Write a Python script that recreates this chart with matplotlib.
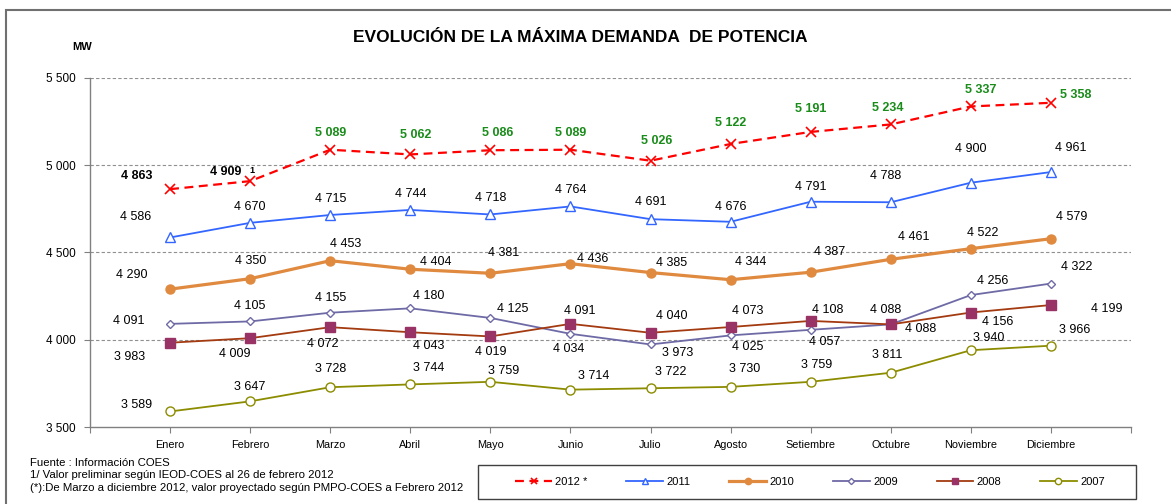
import matplotlib
matplotlib.use("Agg")
import matplotlib.pyplot as plt
from matplotlib.patches import Rectangle

plt.rcParams['font.family'] = ['Liberation Sans', 'DejaVu Sans']

meses = ["Enero", "Febrero", "Marzo", "Abril", "Mayo", "Junio", "Julio",
         "Agosto", "Setiembre", "Octubre", "Noviembre", "Diciembre"]

d2012 = [4863, 4909, 5089, 5062, 5086, 5089, 5026, 5122, 5191, 5234, 5337, 5358]
d2011 = [4586, 4670, 4715, 4744, 4718, 4764, 4691, 4676, 4791, 4788, 4900, 4961]
d2010 = [4290, 4350, 4453, 4404, 4381, 4436, 4385, 4344, 4387, 4461, 4522, 4579]
d2009 = [4091, 4105, 4155, 4180, 4125, 4034, 3973, 4025, 4057, 4088, 4256, 4322]
d2008 = [3983, 4009, 4072, 4043, 4019, 4091, 4040, 4073, 4108, 4088, 4156, 4199]
d2007 = [3589, 3647, 3728, 3744, 3759, 3714, 3722, 3730, 3759, 3811, 3940, 3966]

yticks = [3500, 4000, 4500, 5000, 5500]

# desplazamiento de las etiquetas (pixeles)
off2012 = [(-33, 13), (-24, 9), (0, 17), (5, 19), (7, 17), (0, 17), (6, 20),
           (0, 21), (0, 23), (-3, 16), (10, 16), (25, 8)]
off2011 = [(-34, 20), (0, 16), (0, 16), (0, 16), (0, 16), (0, 16), (0, 17),
           (0, 15), (0, 15), (-5, 26), (0, 34), (20, 24)]
off2010 = [(-38, 14), (0, 18), (15, 17), (25, 7), (13, 20), (22, 5), (21, 10),
           (20, 18), (19, 20), (23, 22), (12, 16), (21, 22)]
off2009 = [(-41, 3), (0, 15), (0, 15), (18, 12), (22, 9), (-2, -15), (27, -9),
           (17, -12), (14, -12), (30, -5), (22, 14), (26, 17)]
off2008 = [(-41, -14), (-15, -16), (-7, -17), (18, -14), (0, -16), (9, 13),
           (21, 17), (17, 16), (17, 11), (-5, 14), (27, -9), (56, -4)]
off2007 = [(-34, 6), (0, 14), (0, 18), (18, 16), (13, 11), (23, 14), (20, 16),
           (14, 18), (6, 17), (-4, 18), (18, 12), (24, 16)]


def fmt(v):
    return f"{v:,}".replace(",", " ")


fig = plt.figure(figsize=(11.71, 5.04), dpi=100)
fig.patches.append(Rectangle((6 / 1171, -0.05), 1.2, 1 - 10 / 504 + 0.05,
                             transform=fig.transFigure, fill=False,
                             edgecolor='#707070', linewidth=1.5))
# caja de la leyenda
fig.patches.append(Rectangle((478 / 1171, 1 - 499 / 504), 658 / 1171, 34 / 504,
                             transform=fig.transFigure, fill=False,
                             edgecolor='#404040', linewidth=1.0))

ax = fig.add_axes([90 / 1171, 1 - 427 / 504, 1041 / 1171, 349 / 504])
x = list(range(len(meses)))

series = [
    ("2012 *", d2012, off2012, dict(color='#FF0000', ls=(0, (4, 2.5)), lw=1.6,
                                    marker='x', ms=7, mew=1.2)),
    ("2011", d2011, off2011, dict(color='#3366FF', lw=1.3, marker='^', ms=7,
                                  mfc='white', mec='#3366FF', mew=1.0)),
    ("2010", d2010, off2010, dict(color='#E08A40', lw=2.3, marker='o', ms=6.5)),
    ("2009", d2009, off2009, dict(color='#6E6AA6', lw=1.3, marker='D', ms=4.5,
                                  mfc='white', mec='#6E6AA6', mew=1.0)),
    ("2008", d2008, off2008, dict(color='#A33A10', lw=1.3, marker='s', ms=6.5,
                                  mfc='#993366', mec='#993366')),
    ("2007", d2007, off2007, dict(color='#8C8C00', lw=1.3, marker='o', ms=6.5,
                                  mfc='white', mec='#8C8C00', mew=1.0)),
]

handles = []
for name, vals, offs, style in series:
    h, = ax.plot(x, vals, label=name, zorder=3, **style)
    handles.append(h)
    for i, v in enumerate(vals):
        if name.startswith("2012"):
            if i < 2:
                kw = dict(color='black', fontweight='bold')
            else:
                kw = dict(color='#1A8C1A', fontweight='bold')
        else:
            kw = dict(color='black')
        ax.annotate(fmt(v), (i, v), xytext=offs[i], textcoords='offset pixels',
                    ha='center', va='center', fontsize=9, zorder=4, **kw)

# nota 1/ sobre febrero 2012
ax.annotate("1", (1, d2012[1]), xytext=(2, 11), textcoords='offset pixels',
            ha='center', va='center', fontsize=6.5, fontweight='bold')

ax.set_xlim(-1, 12)
ax.set_ylim(3500, 5500)
ax.set_yticks(yticks)
ax.set_yticklabels([fmt(t) for t in yticks], fontsize=8.5)
ax.set_xticks(range(-1, 13))
ax.set_xticklabels([""] + meses + [""], fontsize=7.8)
ax.tick_params(axis='both', direction='out', length=4, color='#808080', pad=5)
ax.tick_params(axis='y', pad=6)

for y in yticks[1:]:
    ax.axhline(y, color='#909090', lw=0.8, ls=(0, (3, 2)), zorder=1)

for s in ['top', 'right']:
    ax.spines[s].set_visible(False)
for s in ['left', 'bottom']:
    ax.spines[s].set_color('#808080')
    ax.spines[s].set_linewidth(1.0)

fig.text(580 / 1171, 1 - 37 / 504, "EVOLUCIÓN DE LA MÁXIMA DEMANDA  DE POTENCIA",
         ha='center', va='center', fontsize=12.5, fontweight='bold')
fig.text(82 / 1171, 1 - 47 / 504, "MW", ha='center', va='center',
         fontsize=8, fontweight='bold')

notas = ["Fuente : Información COES",
         "1/ Valor preliminar según IEOD-COES al 26 de febrero 2012",
         "(*):De Marzo a diciembre 2012, valor proyectado según PMPO-COES a Febrero 2012"]
for k, t in enumerate(notas):
    fig.text(30 / 1171, 1 - (463 + 12.5 * k) / 504, t, ha='left', va='center',
             fontsize=8.2)

leg = fig.legend(handles=handles, loc='center',
                 bbox_to_anchor=(810 / 1171, 1 - 482 / 504), ncol=6,
                 fontsize=8, frameon=False, handlelength=3.3,
                 columnspacing=3.5, handletextpad=0.3, borderpad=0.5,
                 markerscale=0.7)

fig.savefig("out.png", dpi=100)
